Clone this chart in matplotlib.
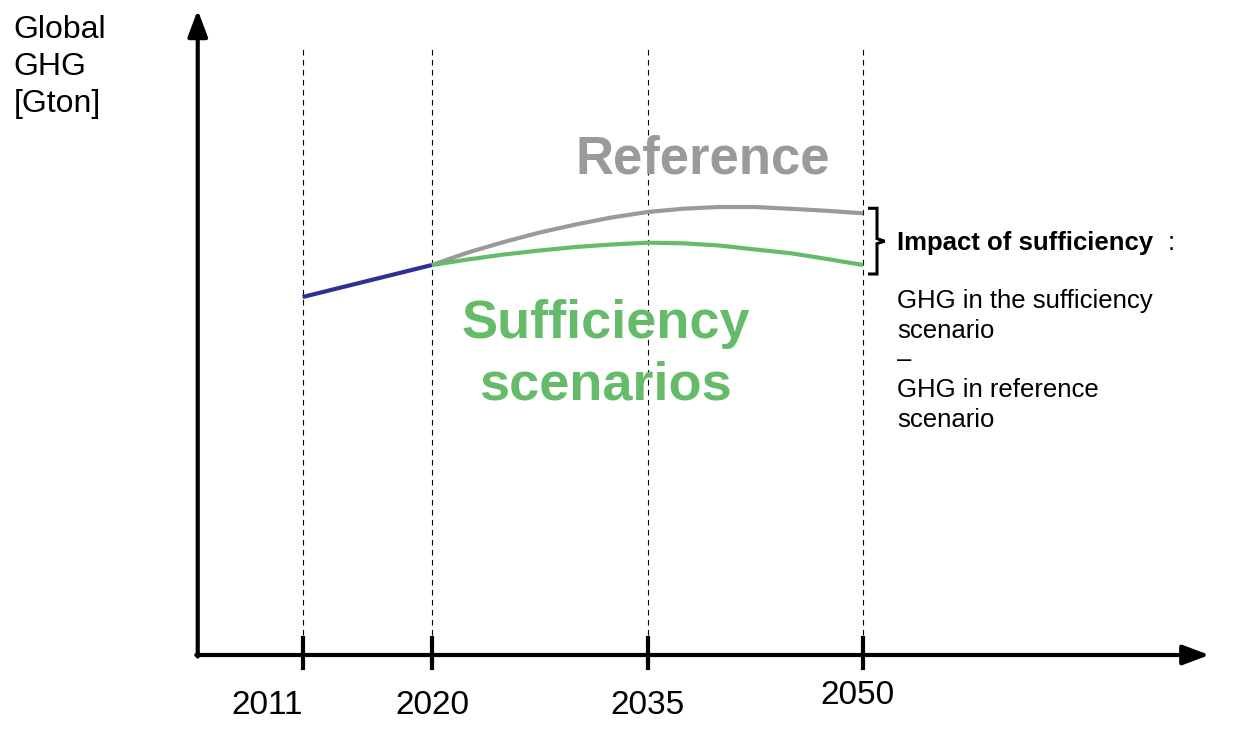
import numpy as np
import matplotlib.pyplot as plt

plt.rcParams['font.family'] = ['Liberation Sans', 'DejaVu Sans']

# data (arbitrary Gton units)
hist_years = [2011, 2020]
hist_ghg = [35.8, 39.0]

scen_years = [2020, 2022.5, 2025, 2027.5, 2030, 2032.5, 2035,
              2037.5, 2040, 2042.5, 2045, 2047.5, 2050]
ref_ghg = [39.0, 40.25, 41.3, 42.25, 43.05, 43.75, 44.3,
           44.63, 44.8, 44.8, 44.62, 44.42, 44.17]
suff_ghg = [39.0, 39.55, 40.05, 40.45, 40.8, 41.05, 41.23,
            41.17, 40.95, 40.55, 40.17, 39.6, 39.0]

tick_years = [2011, 2020, 2035, 2050]
tick_labels = ["2011", "2020", "2035", "2050"]

c_hist = "#2e3192"
c_ref = "#9a9a9a"
c_suff = "#66bb6a"

fig = plt.figure(figsize=(12.43, 7.30), dpi=100)
ax = fig.add_axes([0, 0, 1, 1])
ax.set_xlim(1989.94, 2076.44)
ax.set_ylim(-7.5, 65.5)
ax.axis("off")

x0 = 2003.7
arrow = dict(arrowstyle="-|>,head_length=0.8,head_width=0.3", lw=3,
             color="black", mutation_scale=20, shrinkA=0, shrinkB=0)
ax.annotate("", xy=(x0, 64.5), xytext=(x0, -0.15), arrowprops=arrow)
ax.annotate("", xy=(2074.1, 0), xytext=(x0 - 0.1, 0), arrowprops=arrow)

# dashed guides + ticks
for yr in tick_years:
    ax.plot([yr, yr], [0, 61], color="black", lw=0.8, ls=(0, (5, 4)))
    ax.plot([yr, yr], [-1.3, 1.7], color="black", lw=3)

for yr, lab in zip(tick_years, tick_labels):
    if yr == 2011:
        ax.text(yr, -5.0, lab, ha="right", va="center", fontsize=24)
    elif yr == 2050:
        ax.text(yr - 0.4, -4.0, lab, ha="center", va="center", fontsize=24)
    else:
        ax.text(yr, -5.0, lab, ha="center", va="center", fontsize=24)

# lines
ax.plot(hist_years, hist_ghg, color=c_hist, lw=3, solid_capstyle="butt")
ax.plot(scen_years, ref_ghg, color=c_ref, lw=3, solid_capstyle="butt")
ax.plot(scen_years, suff_ghg, color=c_suff, lw=3, solid_capstyle="butt")

# labels
ax.text(1990.9, 64.0, "Global\nGHG\n[Gton]", ha="left", va="top",
        fontsize=23, linespacing=1.3)
ax.text(2038.86, 49.5, "Reference", ha="center", va="center",
        fontsize=38, fontweight="bold", color=c_ref)
ax.text(2032.1, 30.0, "Sufficiency\nscenarios", ha="center", va="center",
        fontsize=39, fontweight="bold", color=c_suff, linespacing=1.3)

# bracket between the 2050 end points
top, bot = ref_ghg[-1] + 0.5, suff_ghg[-1] - 0.9
mid = (top + bot) / 2
bx = 2050.97
ax.plot([2050.45, bx, bx, 2051.5, bx, bx, 2050.45],
        [top, top, mid + 0.25, mid, mid - 0.25, bot, bot],
        color="black", lw=2.2, solid_joinstyle="miter")

ax.text(2052.36, mid - 0.2, "Impact of sufficiency", ha="left", va="center",
        fontsize=18.5, fontweight="bold")
ax.text(2071.2, mid - 0.2, ":", ha="left", va="center", fontsize=18.5)
ax.text(2052.36, 36.6,
        "GHG in the sufficiency\nscenario\n\u2013\nGHG in reference\nscenario",
        ha="left", va="top", fontsize=18.5, linespacing=1.3)

fig.savefig("out.png", dpi=100)
